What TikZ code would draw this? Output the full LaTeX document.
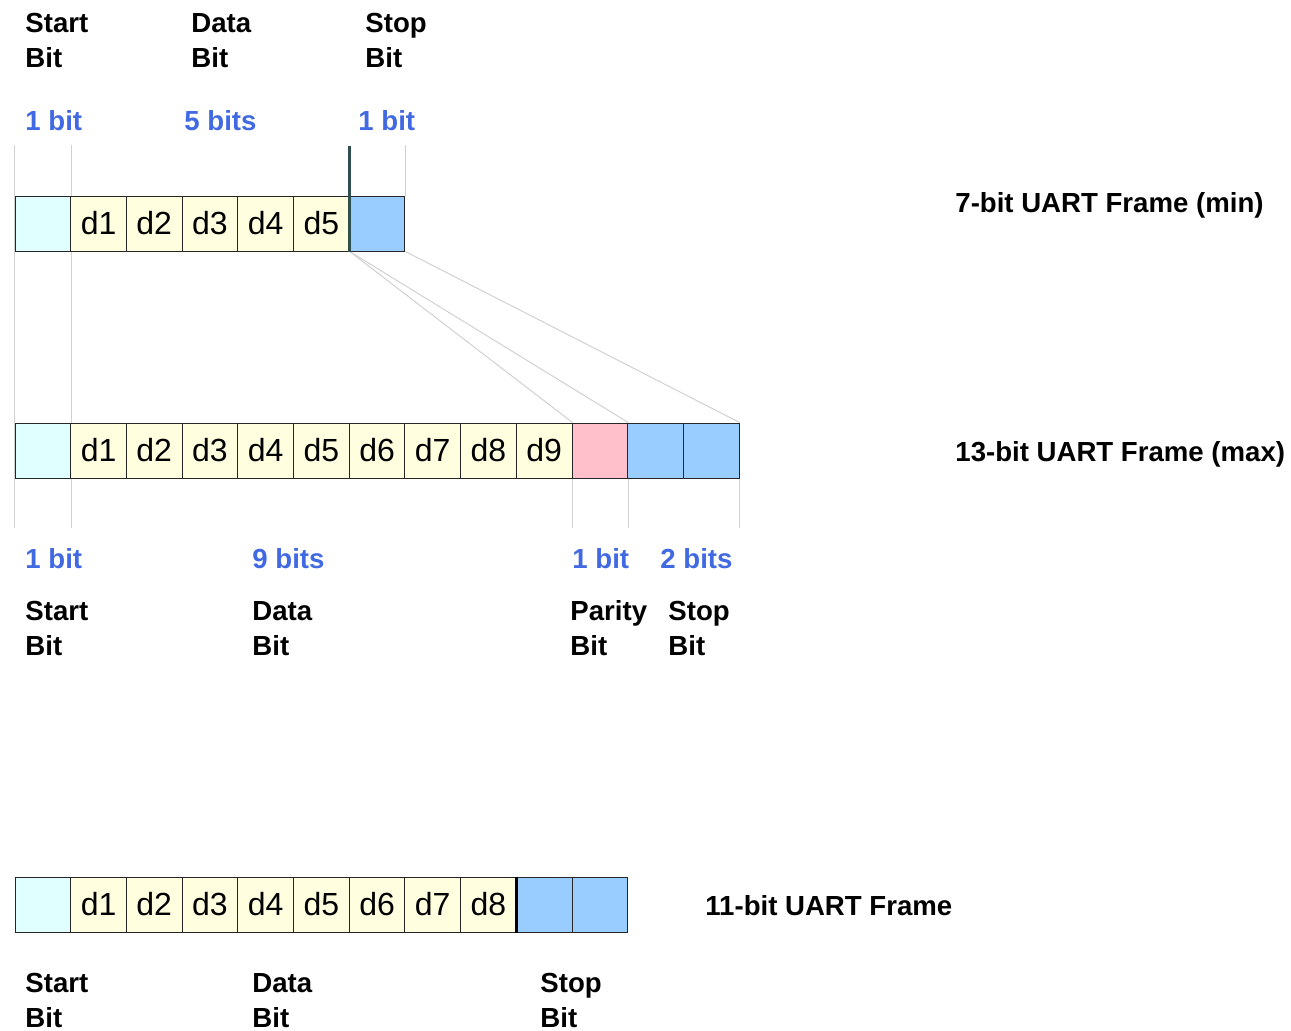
\documentclass[tikz,border=0pt]{standalone}
\usepackage{fontspec}
\setmainfont{Liberation Sans}
\usetikzlibrary{backgrounds}
\definecolor{startc}{HTML}{E0FFFF}
\definecolor{datac}{HTML}{FFFFE0}
\definecolor{stopc}{HTML}{99CCFF}
\definecolor{parc}{HTML}{FFC0CB}
\definecolor{bitc}{HTML}{4169E1}
\definecolor{markc}{HTML}{2F4F4F}
\tikzset{
  cell/.style={draw=black!85,line width=0.5pt,minimum width=27.85pt,minimum height=27.5pt,inner sep=0pt,font=\fontsize{16}{18}\selectfont},
  lbl/.style={anchor=base west,inner sep=0pt,align=left,font=\fontsize{13.8}{17.5}\selectfont\bfseries},
  cnt/.style={lbl,text=bitc},
  guide/.style={draw=black!18,line width=0.5pt},
}

\begin{document}
\begin{tikzpicture}[x=0.5pt,y=-0.5pt]
  \useasboundingbox (0,0) rectangle (1291,1030);
  % 7-bit frame
  \node[cell,fill=startc] (a0) at (42.85,223.5) {};
  \foreach \i in {1,...,5} \node[cell,fill=datac] (a\i) at ({15+55.7*(\i+0.5)},223.5) {d\i};
  \node[cell,fill=stopc] (a6) at ({15+55.7*6.5},223.5) {};
  % 13-bit frame
  \node[cell,fill=startc] (b0) at (42.85,450.5) {};
  \foreach \i in {1,...,9} \node[cell,fill=datac] (b\i) at ({15+55.7*(\i+0.5)},450.5) {d\i};
  \node[cell,fill=parc] (b10) at ({15+55.7*10.5},450.5) {};
  \foreach \i in {11,12} \node[cell,fill=stopc] (b\i) at ({15+55.7*(\i+0.5)},450.5) {};
  % 11-bit frame
  \node[cell,fill=startc] (c0) at (42.85,904.5) {};
  \foreach \i in {1,...,8} \node[cell,fill=datac] (c\i) at ({15+55.7*(\i+0.5)},904.5) {d\i};
  \foreach \i in {9,10} \node[cell,fill=stopc] (c\i) at ({15+55.7*(\i+0.5)},904.5) {};

  % guide lines
  \begin{scope}[on background layer]
    \draw[guide] (a0.north west) ++(0,-51) -- (b0.south west) -- ++(0,49);
    \draw[guide] (a0.north east) ++(0,-51) -- (b0.south east) -- ++(0,49);
    \draw[guide] (a6.north east) -- ++(0,-51);
    \foreach \n in {9,10,12} \draw[guide] (b\n.south east) -- ++(0,49);
  \end{scope}
  \draw[guide] (a5.south east) -- (b9.north east);
  \draw[guide] (a5.south east) -- (b10.north east);
  \draw[guide] (a6.south east) -- (b12.north east);
  \draw[markc,line width=1.5pt] (a5.south east) -- ++(0,-106);
  \draw[line width=1.5pt] (c8.north east) -- (c8.south east);

  % labels
  \node[lbl] (ls1) at (25,67) {Start\\Bit};
  \node[lbl] (ld1) at (191,67) {Data\\Bit};
  \node[lbl] (lp1) at (365,67) {Stop\\Bit};
  \node[cnt] (ns1) at (25,130) {1 bit};
  \node[cnt] (nd1) at (184,130) {5 bits};
  \node[cnt] (np1) at (358,130) {1 bit};
  \node[lbl] (t1) at (955,212) {7-bit UART Frame (min)};

  \node[cnt] (ns2) at (25,568) {1 bit};
  \node[cnt] (nd2) at (252,568) {9 bits};
  \node[cnt] (nq2) at (572,568) {1 bit};
  \node[cnt] (np2) at (660,568) {2 bits};
  \node[lbl] (ls2) at (25,655) {Start\\Bit};
  \node[lbl] (ld2) at (252,655) {Data\\Bit};
  \node[lbl] (lq2) at (570,655) {Parity\\Bit};
  \node[lbl] (lp2) at (668,655) {Stop\\Bit};
  \node[lbl] (t2) at (955,461) {13-bit UART Frame (max)};

  \node[lbl] (ls3) at (25,1027) {Start\\Bit};
  \node[lbl] (ld3) at (252,1027) {Data\\Bit};
  \node[lbl] (lp3) at (540,1027) {Stop\\Bit};
  \node[lbl] (t3) at (705,915) {11-bit UART Frame};
\end{tikzpicture}
\end{document}
